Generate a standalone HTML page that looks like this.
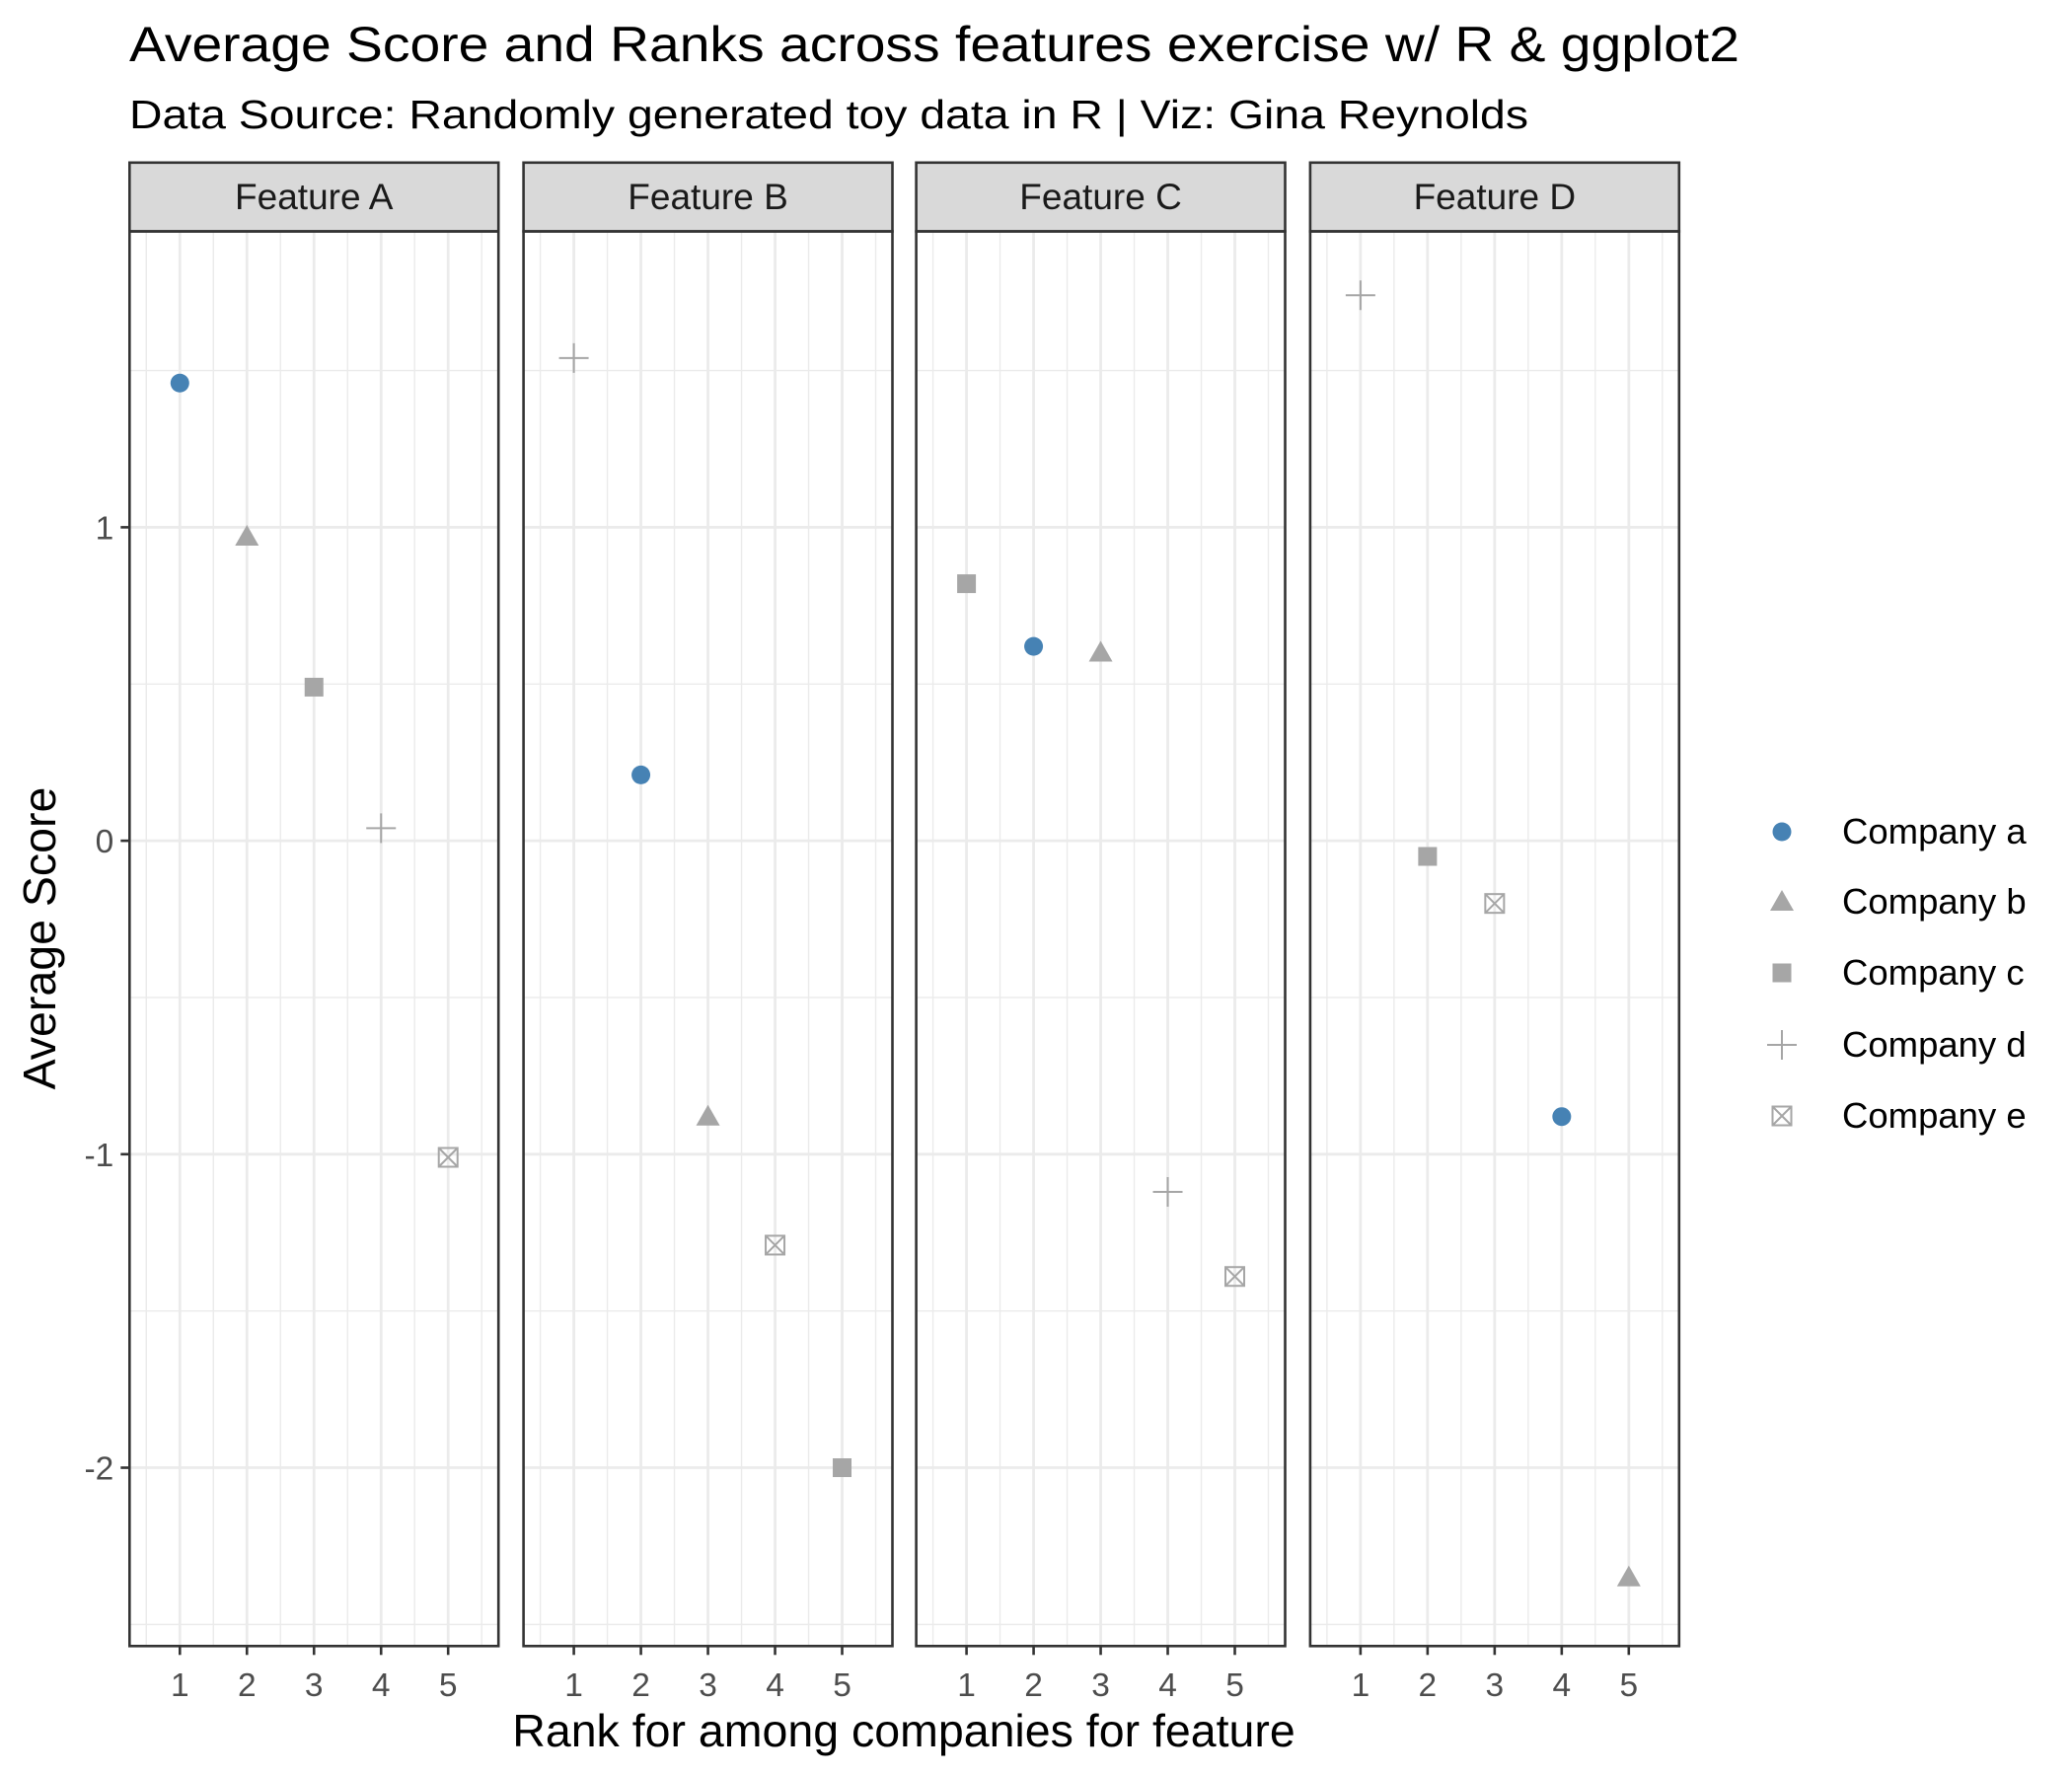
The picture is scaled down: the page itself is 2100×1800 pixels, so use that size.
<!DOCTYPE html>
<html><head><meta charset="utf-8"><style>
html,body{margin:0;padding:0;background:#fff;}
svg{display:block;font-family:"Liberation Sans",Arial,sans-serif;}
</style></head><body>
<svg id="chart" width="2100" height="1800" viewBox="0 0 2100 1800" xmlns="http://www.w3.org/2000/svg">
<text x="131" y="62" font-size="50" fill="#000" textLength="1632" lengthAdjust="spacingAndGlyphs">Average Score and Ranks across features exercise w/ R &amp; ggplot2</text>
<text x="131" y="130" font-size="41" fill="#000" textLength="1418" lengthAdjust="spacingAndGlyphs">Data Source: Randomly generated toy data in R | Viz: Gina Reynolds</text>
<text transform="translate(56,951) rotate(-90)" text-anchor="middle" font-size="46.5" fill="#000">Average Score</text>
<text x="916" y="1770" text-anchor="middle" font-size="46.5" fill="#000">Rank for among companies for feature</text>
<g id="panels"></g>
<g id="legend"></g>
</svg>
<script>
const features = ["Feature A","Feature B","Feature C","Feature D"];
const companies = ["Company a","Company b","Company c","Company d","Company e"];
// ranks per feature, order of companies a..e
const ranksA = [1,2,3,4,5];
const scoresA = [1.46,0.97,0.49,0.04,-1.01];
const ranksB = [2,3,5,1,4];
const scoresB = [0.21,-0.88,-2.0,1.54,-1.29];
const ranksC = [2,3,1,4,5];
const scoresC = [0.62,0.60,0.82,-1.12,-1.39];
const ranksD = [4,5,2,1,3];
const scoresD = [-0.88,-2.35,-0.05,1.74,-0.20];
const yTicks = [1,0,-1,-2];
const yTickLabels = ["1","0","-1","-2"];
const xTicks = [1,2,3,4,5];

const NS="http://www.w3.org/2000/svg";
const panelLefts=[131.3,530.6,928.6,1327.9], pw=373.9;
const stripTop=164.8, stripBot=234.5, pBot=1668.3;
const xMin=0.25, xMax=5.75, yMin=-2.569, yMax=1.944;
function sx(i,v){return panelLefts[i]+(v-xMin)/(xMax-xMin)*pw;}
function sy(v){return stripBot+(yMax-v)/(yMax-yMin)*(pBot-stripBot);}
function mk(tag,attrs,parent){const e=document.createElementNS(NS,tag);for(const k in attrs)e.setAttribute(k,attrs[k]);parent.appendChild(e);return e;}
const grey="#a6a6a6", blue="#4682b4";
function marker(kind,x,y,parent){
  const g=mk('g',{},parent);
  if(kind===0){mk('circle',{cx:x,cy:y,r:9.5,fill:blue},g);}
  else if(kind===1){mk('polygon',{points:`${x},${y-12} ${x-12},${y+9} ${x+12},${y+9}`,fill:grey},g);}
  else if(kind===2){mk('rect',{x:x-9.5,y:y-9.5,width:19,height:19,fill:grey},g);}
  else if(kind===3){mk('path',{d:`M${x-15},${y}H${x+15}M${x},${y-15}V${y+15}`,stroke:grey,'stroke-width':2,fill:'none'},g);}
  else {mk('rect',{x:x-9.5,y:y-9.5,width:19,height:19,fill:'none',stroke:grey,'stroke-width':2},g);
        mk('path',{d:`M${x-9.5},${y-9.5}L${x+9.5},${y+9.5}M${x+9.5},${y-9.5}L${x-9.5},${y+9.5}`,stroke:grey,'stroke-width':2},g);}
  return g;
}
const allRanks=[ranksA,ranksB,ranksC,ranksD], allScores=[scoresA,scoresB,scoresC,scoresD];
const P=document.getElementById('panels');
features.forEach((f,i)=>{
  const g=mk('g',{},P);
  
  
  const L=panelLefts[i];
  mk('rect',{x:L,y:stripBot,width:pw,height:pBot-stripBot,fill:'#fff'},g);
  for(let v=0.5;v<=5.5;v+=1){mk('line',{x1:sx(i,v),x2:sx(i,v),y1:stripBot,y2:pBot,stroke:'#ebebeb','stroke-width':1.4},g);}
  for(let v=-2.5;v<=1.5;v+=1){mk('line',{x1:L,x2:L+pw,y1:sy(v),y2:sy(v),stroke:'#ebebeb','stroke-width':1.4},g);}
  xTicks.forEach(v=>mk('line',{x1:sx(i,v),x2:sx(i,v),y1:stripBot,y2:pBot,stroke:'#ebebeb','stroke-width':2.8},g));
  yTicks.forEach(v=>mk('line',{x1:L,x2:L+pw,y1:sy(v),y2:sy(v),stroke:'#ebebeb','stroke-width':2.8},g));
  const s=mk('rect',{x:L,y:stripTop,width:pw,height:stripBot-stripTop,fill:'#d9d9d9',stroke:'#333','stroke-width':2.6},g);
  
  
  const st=mk('text',{x:L+pw/2,y:stripTop+47,'text-anchor':'middle','font-size':37,fill:'#1a1a1a'},g);
  st.textContent=f;
  
  
  companies.forEach((c,k)=>{
    const m=marker(k,sx(i,allRanks[i][k]),sy(allScores[i][k]),g);
    
    
  });
  mk('rect',{x:L,y:stripBot,width:pw,height:pBot-stripBot,fill:'none',stroke:'#333','stroke-width':2.6},g);
  xTicks.forEach(v=>{
    mk('line',{x1:sx(i,v),x2:sx(i,v),y1:pBot,y2:pBot+9,stroke:'#333','stroke-width':2.6},g);
    const t=mk('text',{x:sx(i,v),y:1719,'text-anchor':'middle','font-size':33.5,fill:'#4d4d4d'},g);
    t.textContent=v;
    
    
  });
  if(i===0){
    yTicks.forEach((v,j)=>{
      mk('line',{x1:L-9,x2:L,y1:sy(v),y2:sy(v),stroke:'#333','stroke-width':2.6},g);
      const t=mk('text',{x:L-16,y:sy(v)+12,'text-anchor':'end','font-size':33.5,fill:'#4d4d4d'},g);
      t.textContent=yTickLabels[j];
      
      
    });
  }
});
const LG=document.getElementById('legend');
const legY=[843,914,986,1059,1131];
companies.forEach((c,k)=>{
  const g=mk('g',{},LG);
  
  
  marker(k,1806,legY[k],g);
  const t=mk('text',{x:1867,y:legY[k]+12,'font-size':36.5,fill:'#000'},g);
  t.textContent=c;
});
</script>
</body></html>
